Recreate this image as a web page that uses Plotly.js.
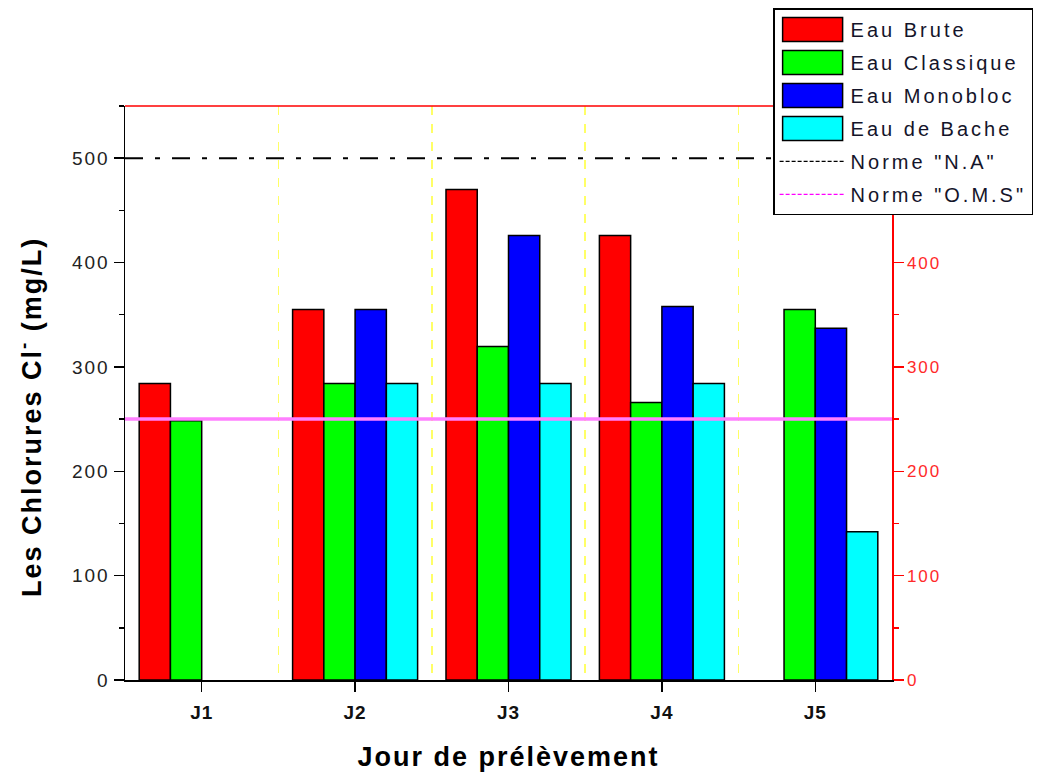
<!DOCTYPE html>
<html>
<head>
<meta charset="utf-8">
<script src="https://cdn.plot.ly/plotly-3.0.1.min.js"></script>
<style>
html,body{margin:0;padding:0;background:#fff;}
#chart{width:1044px;height:772px;}
.legendtext{letter-spacing:3px;}
#chart .ytick text{letter-spacing:2px;}
#chart .xtick text{letter-spacing:1px;}
#chart .y2tick text{letter-spacing:2px;}
.xtitle{letter-spacing:2px;}
.annotation-text{letter-spacing:2px;}
</style>
</head>
<body>
<div id="chart"></div>
<script>
const categories = ['J1', 'J2', 'J3', 'J4', 'J5'];
const eauBrute = [284, 355, 470, 426, null];
const eauClassique = [248.5, 284, 319.5, 266, 355];
const eauMonobloc = [null, 355, 426, 358, 337];
const eauBache = [null, 284, 284, 284, 142];
const normeNA = 500;
const normeOMS = 250;
const yTicksLeft = [0, 100, 200, 300, 400, 500];
const yTicksRight = [0, 100, 200, 300, 400];

const xIdx = categories.map((_, i) => i);
const xSpan = [-0.5, categories.length - 0.5];
const FONT = 'Liberation Sans, Arial, sans-serif';

function barTrace(name, values, color, g) {
  return {
    type: 'bar', name: name, x: xIdx, y: values,
    marker: {color: color, line: {color: '#000', width: 1.5}},
    legendgroup: g, hoverinfo: 'y'
  };
}

const traces = [
  barTrace('Eau Brute', eauBrute, '#FF0000', 'a'),
  barTrace('Eau Classique', eauClassique, '#00FF00', 'b'),
  barTrace('Eau Monobloc', eauMonobloc, '#0000FF', 'c'),
  barTrace('Eau de Bache', eauBache, '#00FFFF', 'd'),
  // legend entries for the two norms (thin dashed, as in the reference legend)
  {
    type: 'scatter', mode: 'lines', name: 'Norme "N.A"', x: [null], y: [null],
    line: {color: '#000', width: 1.2, dash: '4px,2px'}, legendgroup: 'e'
  },
  {
    type: 'scatter', mode: 'lines', name: 'Norme "O.M.S"', x: [null], y: [null],
    line: {color: '#FF00FF', width: 1.2, dash: '4px,2px'}, legendgroup: 'f'
  },
  // the norm lines themselves
  {
    type: 'scatter', mode: 'lines', name: 'Norme "N.A"', showlegend: false,
    x: xSpan, y: [normeNA, normeNA], yaxis: 'y2',
    line: {color: '#000', width: 2, dash: '18px,12px,5px,12px'}, legendgroup: 'e'
  },
  {
    type: 'scatter', mode: 'lines', name: 'Norme "O.M.S"', showlegend: false,
    x: xSpan, y: [normeOMS, normeOMS], yaxis: 'y2',
    line: {color: '#FF80FF', width: 3.5}, legendgroup: 'f'
  }
];

const layout = {
  width: 1044, height: 772,
  margin: {l: 125, r: 152, t: 106, b: 92, autoexpand: false},
  paper_bgcolor: '#fff', plot_bgcolor: '#fff',
  barmode: 'group', bargap: 0.185, bargroupgap: 0,
  showlegend: true,
  legend: {
    x: 0.845, xanchor: 'left', y: 1.170, yanchor: 'top',
    bgcolor: '#fff', bordercolor: '#000', borderwidth: 1.5,
    font: {family: FONT, size: 20, color: '#14142a'},
    tracegroupgap: 4, traceorder: 'grouped', itemwidth: 66
  },
  xaxis: {
    range: xSpan, tickvals: xIdx, ticktext: categories,
    showline: true, linecolor: '#000', linewidth: 1.5,
    ticks: 'outside', ticklen: 10, tickwidth: 1.5, tickcolor: '#000',
    ticklabelstandoff: 5,
    tickfont: {family: FONT, size: 19, color: '#111', weight: 'bold'},
    showgrid: false, zeroline: false,
    minor: {tick0: 0.5, dtick: 1, showgrid: true, gridcolor: '#FFFF66', griddash: 'dash', gridwidth: 1.5, ticks: ''},
    title: {text: '<b>Jour de prélèvement</b>', font: {family: FONT, size: 27, color: '#000'}, standoff: 28}
  },
  yaxis: {
    range: [0, 550], tickvals: yTicksLeft,
    showline: true, linecolor: '#000', linewidth: 1.5,
    ticks: 'outside', ticklen: 10, tickwidth: 1.5, tickcolor: '#000',
    minor: {dtick: 50, ticks: 'outside', ticklen: 5, tickcolor: '#000', tickwidth: 1.5},
    tickfont: {family: FONT, size: 19, color: '#222'},
    showgrid: false, zeroline: false
  },
  yaxis2: {
    overlaying: 'y', side: 'right', range: [0, 550], tickvals: yTicksRight,
    showline: true, linecolor: '#FF0000', linewidth: 1.5,
    ticks: 'outside', ticklen: 10, tickwidth: 1.5, tickcolor: '#FF0000',
    minor: {dtick: 50, ticks: 'outside', ticklen: 5, tickcolor: '#FF0000', tickwidth: 1.5},
    tickfont: {family: FONT, size: 17, color: '#FF2A2A'},
    showgrid: false, zeroline: false
  },
  annotations: [
    {
      text: '<b>Les Chlorures Cl<sup>-</sup> (mg/L)</b>', textangle: -90,
      xref: 'paper', yref: 'paper', x: -0.124, y: 0.458,
      xanchor: 'center', yanchor: 'middle', showarrow: false,
      font: {family: FONT, size: 27, color: '#000'}
    }
  ],
  shapes: [
    {type: 'line', xref: 'paper', yref: 'paper', x0: 0, x1: 1, y0: 1, y1: 1, line: {color: '#FF0000', width: 1.5}, layer: 'above'}
  ]
};

Plotly.newPlot('chart', traces, layout, {displayModeBar: false, staticPlot: true}).then(function () {
  // widen the bar swatches in the legend to the reference's wide rectangles
  document.querySelectorAll('#chart .legend .legendpoints path').forEach(function (p) {
    if (p.getAttribute('d') === 'M6,6H-6V-6H6Z') {
      p.setAttribute('d', 'M30,12H-30V-12H30Z');
      p.style.strokeWidth = '1.5px';
      p.style.stroke = '#000';
    }
  });
});
</script>
</body>
</html>
